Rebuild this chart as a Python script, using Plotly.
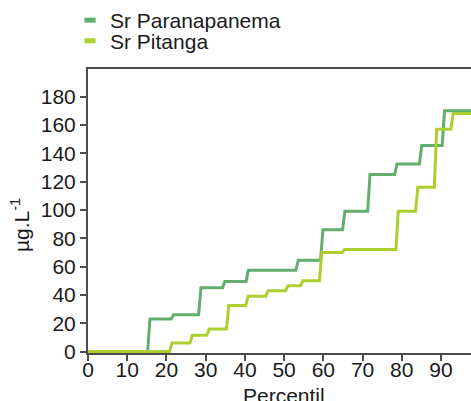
import plotly.graph_objects as go

# Data (percentile breakpoints and concentrations, µg/L)
pct_parana = [0, 15.2, 15.8, 21.2, 21.8, 28.2, 28.8, 34.3, 34.9, 40.3, 40.9, 53.0, 53.6, 59.3, 59.9,
              64.9, 65.5, 71.3, 71.9, 78.2, 78.8, 84.5, 85.1, 90.3, 90.9, 100]
val_parana = [0, 0, 23, 23, 26, 26, 45, 45, 49.5, 49.5, 57.5, 57.5, 64.5, 64.5, 86,
              86, 99, 99, 125, 125, 132.5, 132.5, 145.5, 145.5, 170, 170]

pct_pitanga = [0, 20.8, 21.4, 26.0, 26.6, 30.3, 30.9, 35.3, 35.9, 40.2, 40.8, 45.3, 45.9, 50.4, 51.0,
               54.2, 54.8, 59.0, 59.6, 64.8, 65.4, 78.5, 79.1, 83.5, 84.1, 88.3, 88.9, 92.5, 93.1, 100]
val_pitanga = [0, 0, 6, 6, 11.5, 11.5, 16, 16, 32.5, 32.5, 39, 39, 43, 43, 46.5,
               46.5, 50, 50, 70, 70, 72, 72, 99, 99, 116, 116, 157, 157, 168, 168]

series_names = ["Sr Paranapanema", "Sr Pitanga"]
series_colors = ["#62ae6e", "#abcf2c"]
x_ticks = [0, 10, 20, 30, 40, 50, 60, 70, 80, 90]
y_ticks = [0, 20, 40, 60, 80, 100, 120, 140, 160, 180]

FONT = "Liberation Sans, Arial, sans-serif"
AX = "#4d4d4d"

fig = go.Figure()
legend_ids = ["legend", "legend2"]
for name, xs, ys, col, lg in [(series_names[0], pct_parana, val_parana, series_colors[0], legend_ids[0]),
                              (series_names[1], pct_pitanga, val_pitanga, series_colors[1], legend_ids[1])]:
    fig.add_trace(go.Scatter(x=xs, y=ys, mode="lines", name=name,
                             line=dict(color=col, width=3), showlegend=False))
    # legend entry (short thick bar)
    fig.add_trace(go.Scatter(x=[None], y=[None], mode="markers", name=name, legend=lg,
                             marker=dict(symbol="line-ew", size=8,
                                         line=dict(color=col, width=6))))

leg_common = dict(x=-0.047, xanchor="left", yanchor="top", font=dict(size=21),
                  itemwidth=30, bgcolor="rgba(0,0,0,0)")

fig.update_layout(
    width=471, height=401,
    margin=dict(l=88, r=0, t=68, b=48, pad=0),
    paper_bgcolor="white", plot_bgcolor="white",
    font=dict(family=FONT, size=21, color="#1a1a1a"),
    legend=dict(y=1.245, **leg_common),
    legend2=dict(y=1.166, **leg_common),
    xaxis=dict(range=[0, 97.65], tickvals=x_ticks, ticks="outside", ticklen=6,
               tickwidth=1.5, tickcolor=AX, showline=True, linecolor=AX, linewidth=2,
               mirror=True, showgrid=False, zeroline=False, ticklabelstandoff=-9,
               tickfont=dict(size=21)),
    yaxis=dict(range=[-1, 199.5], tickvals=y_ticks, ticks="outside", ticklen=6,
               tickwidth=1.5, tickcolor=AX, showline=True, linecolor=AX, linewidth=2,
               showgrid=False, zeroline=False, tickfont=dict(size=21)),
    annotations=[
        dict(text="Percentil", xref="paper", yref="paper", x=0.512, y=-0.149,
             xanchor="center", yanchor="middle", showarrow=False, font=dict(size=21)),
        dict(text="µg.L<sup>-1</sup>", xref="paper", yref="paper", x=-0.176, y=0.449,
             xanchor="center", yanchor="middle", textangle=-90, showarrow=False,
             font=dict(size=21)),
    ],
)

fig.write_html("out.html")
